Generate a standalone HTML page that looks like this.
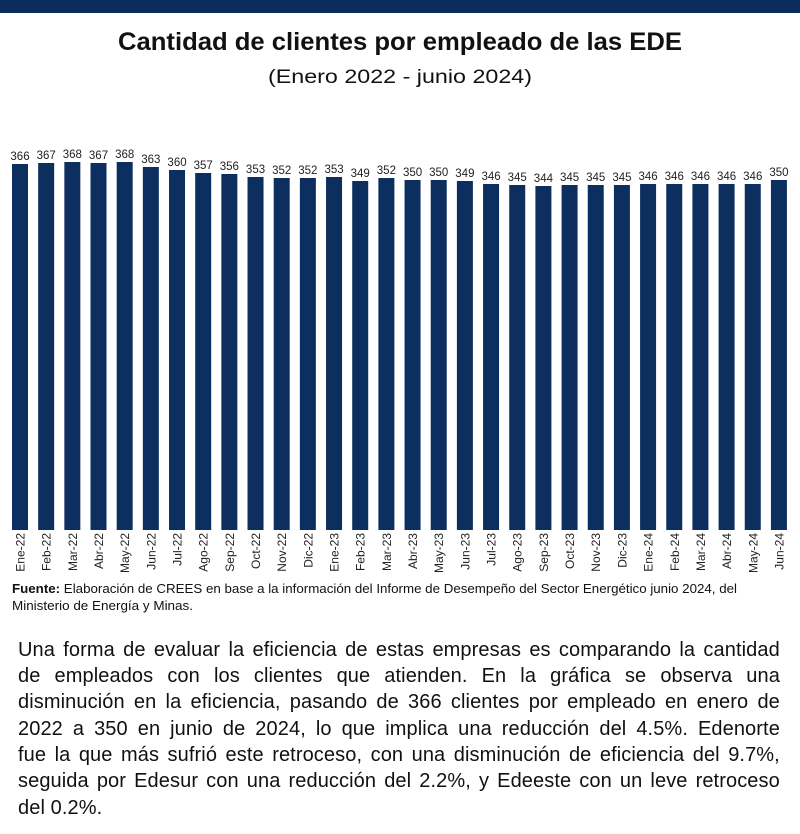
<!DOCTYPE html>
<html>
<head>
<meta charset="utf-8">
<style>
  html,body{margin:0;padding:0;background:#fff;}
  body{width:800px;height:834px;position:relative;overflow:hidden;font-family:"Liberation Sans",sans-serif;}
  svg{position:absolute;left:0;top:0;}
  .ln{position:absolute;left:18px;width:762px;height:20px;font-size:20px;line-height:20px;color:#111;display:flex;justify-content:space-between;white-space:nowrap;letter-spacing:0.1px;}
  .ln.last{justify-content:flex-start;}
  .ln.last span{margin-right:5.6px;}
</style>
</head>
<body>
<svg width="800" height="834" viewBox="0 0 800 834" xmlns="http://www.w3.org/2000/svg">
  <rect x="0" y="0" width="800" height="13" fill="#0b2c5b"/>
  <text x="400" y="50" text-anchor="middle" font-family="Liberation Sans, sans-serif" font-weight="bold" font-size="25" fill="#111" textLength="564" lengthAdjust="spacingAndGlyphs">Cantidad de clientes por empleado de las EDE</text>
  <text x="400" y="83" text-anchor="middle" font-family="Liberation Sans, sans-serif" font-size="19.5" fill="#111" textLength="264" lengthAdjust="spacingAndGlyphs">(Enero 2022 - junio 2024)</text>

  <g fill="#0d2f5f">
    <rect x="12.00" y="164" width="16" height="366"/>
    <rect x="38.17" y="163" width="16" height="367"/>
    <rect x="64.34" y="162" width="16" height="368"/>
    <rect x="90.51" y="163" width="16" height="367"/>
    <rect x="116.68" y="162" width="16" height="368"/>
    <rect x="142.85" y="167" width="16" height="363"/>
    <rect x="169.02" y="170" width="16" height="360"/>
    <rect x="195.19" y="173" width="16" height="357"/>
    <rect x="221.36" y="174" width="16" height="356"/>
    <rect x="247.53" y="177" width="16" height="353"/>
    <rect x="273.70" y="178" width="16" height="352"/>
    <rect x="299.87" y="178" width="16" height="352"/>
    <rect x="326.04" y="177" width="16" height="353"/>
    <rect x="352.21" y="181" width="16" height="349"/>
    <rect x="378.38" y="178" width="16" height="352"/>
    <rect x="404.55" y="180" width="16" height="350"/>
    <rect x="430.72" y="180" width="16" height="350"/>
    <rect x="456.89" y="181" width="16" height="349"/>
    <rect x="483.06" y="184" width="16" height="346"/>
    <rect x="509.23" y="185" width="16" height="345"/>
    <rect x="535.40" y="186" width="16" height="344"/>
    <rect x="561.57" y="185" width="16" height="345"/>
    <rect x="587.74" y="185" width="16" height="345"/>
    <rect x="613.91" y="185" width="16" height="345"/>
    <rect x="640.08" y="184" width="16" height="346"/>
    <rect x="666.25" y="184" width="16" height="346"/>
    <rect x="692.42" y="184" width="16" height="346"/>
    <rect x="718.59" y="184" width="16" height="346"/>
    <rect x="744.76" y="184" width="16" height="346"/>
    <rect x="770.93" y="180" width="16" height="350"/>
  </g>

  <g font-family="Liberation Sans, sans-serif" font-size="11.5" fill="#222" text-anchor="middle">
    <text x="20.00" y="160">366</text>
    <text x="46.17" y="159">367</text>
    <text x="72.34" y="158">368</text>
    <text x="98.51" y="159">367</text>
    <text x="124.68" y="158">368</text>
    <text x="150.85" y="163">363</text>
    <text x="177.02" y="166">360</text>
    <text x="203.19" y="169">357</text>
    <text x="229.36" y="170">356</text>
    <text x="255.53" y="173">353</text>
    <text x="281.70" y="174">352</text>
    <text x="307.87" y="174">352</text>
    <text x="334.04" y="173">353</text>
    <text x="360.21" y="177">349</text>
    <text x="386.38" y="174">352</text>
    <text x="412.55" y="176">350</text>
    <text x="438.72" y="176">350</text>
    <text x="464.89" y="177">349</text>
    <text x="491.06" y="180">346</text>
    <text x="517.23" y="181">345</text>
    <text x="543.40" y="182">344</text>
    <text x="569.57" y="181">345</text>
    <text x="595.74" y="181">345</text>
    <text x="621.91" y="181">345</text>
    <text x="648.08" y="180">346</text>
    <text x="674.25" y="180">346</text>
    <text x="700.42" y="180">346</text>
    <text x="726.59" y="180">346</text>
    <text x="752.76" y="180">346</text>
    <text x="778.93" y="176">350</text>
  </g>

  <g font-family="Liberation Sans, sans-serif" font-size="12" fill="#222" text-anchor="end">
    <text transform="translate(24.50,533) rotate(-90)">Ene-22</text>
    <text transform="translate(50.67,533) rotate(-90)">Feb-22</text>
    <text transform="translate(76.84,533) rotate(-90)">Mar-22</text>
    <text transform="translate(103.01,533) rotate(-90)">Abr-22</text>
    <text transform="translate(129.18,533) rotate(-90)">May-22</text>
    <text transform="translate(155.35,533) rotate(-90)">Jun-22</text>
    <text transform="translate(181.52,533) rotate(-90)">Jul-22</text>
    <text transform="translate(207.69,533) rotate(-90)">Ago-22</text>
    <text transform="translate(233.86,533) rotate(-90)">Sep-22</text>
    <text transform="translate(260.03,533) rotate(-90)">Oct-22</text>
    <text transform="translate(286.20,533) rotate(-90)">Nov-22</text>
    <text transform="translate(312.37,533) rotate(-90)">Dic-22</text>
    <text transform="translate(338.54,533) rotate(-90)">Ene-23</text>
    <text transform="translate(364.71,533) rotate(-90)">Feb-23</text>
    <text transform="translate(390.88,533) rotate(-90)">Mar-23</text>
    <text transform="translate(417.05,533) rotate(-90)">Abr-23</text>
    <text transform="translate(443.22,533) rotate(-90)">May-23</text>
    <text transform="translate(469.39,533) rotate(-90)">Jun-23</text>
    <text transform="translate(495.56,533) rotate(-90)">Jul-23</text>
    <text transform="translate(521.73,533) rotate(-90)">Ago-23</text>
    <text transform="translate(547.90,533) rotate(-90)">Sep-23</text>
    <text transform="translate(574.07,533) rotate(-90)">Oct-23</text>
    <text transform="translate(600.24,533) rotate(-90)">Nov-23</text>
    <text transform="translate(626.41,533) rotate(-90)">Dic-23</text>
    <text transform="translate(652.58,533) rotate(-90)">Ene-24</text>
    <text transform="translate(678.75,533) rotate(-90)">Feb-24</text>
    <text transform="translate(704.92,533) rotate(-90)">Mar-24</text>
    <text transform="translate(731.09,533) rotate(-90)">Abr-24</text>
    <text transform="translate(757.26,533) rotate(-90)">May-24</text>
    <text transform="translate(783.43,533) rotate(-90)">Jun-24</text>
  </g>

  <text x="12" y="593" font-family="Liberation Sans, sans-serif" font-size="13" fill="#111" textLength="725" lengthAdjust="spacingAndGlyphs"><tspan font-weight="bold">Fuente:</tspan> Elaboración de CREES en base a la información del Informe de Desempeño del Sector Energético junio 2024, del</text>
  <text x="12" y="610" font-family="Liberation Sans, sans-serif" font-size="13" fill="#111" textLength="181" lengthAdjust="spacingAndGlyphs">Ministerio de Energía y Minas.</text>
</svg>

<div class="ln" style="top:639.8px"><span>Una</span><span>forma</span><span>de</span><span>evaluar</span><span>la</span><span>eficiencia</span><span>de</span><span>estas</span><span>empresas</span><span>es</span><span>comparando</span><span>la</span><span>cantidad</span></div>
<div class="ln" style="top:666.1px"><span>de</span><span>empleados</span><span>con</span><span>los</span><span>clientes</span><span>que</span><span>atienden.</span><span>En</span><span>la</span><span>gráfica</span><span>se</span><span>observa</span><span>una</span></div>
<div class="ln" style="top:692.4px"><span>disminución</span><span>en</span><span>la</span><span>eficiencia,</span><span>pasando</span><span>de</span><span>366</span><span>clientes</span><span>por</span><span>empleado</span><span>en</span><span>enero</span><span>de</span></div>
<div class="ln" style="top:718.7px"><span>2022</span><span>a</span><span>350</span><span>en</span><span>junio</span><span>de</span><span>2024,</span><span>lo</span><span>que</span><span>implica</span><span>una</span><span>reducción</span><span>del</span><span>4.5%.</span><span>Edenorte</span></div>
<div class="ln" style="top:745.0px"><span>fue</span><span>la</span><span>que</span><span>más</span><span>sufrió</span><span>este</span><span>retroceso,</span><span>con</span><span>una</span><span>disminución</span><span>de</span><span>eficiencia</span><span>del</span><span>9.7%,</span></div>
<div class="ln" style="top:771.3px"><span>seguida</span><span>por</span><span>Edesur</span><span>con</span><span>una</span><span>reducción</span><span>del</span><span>2.2%,</span><span>y</span><span>Edeeste</span><span>con</span><span>un</span><span>leve</span><span>retroceso</span></div>
<div class="ln last" style="top:797.6px"><span>del</span><span>0.2%.</span></div>
</body>
</html>
